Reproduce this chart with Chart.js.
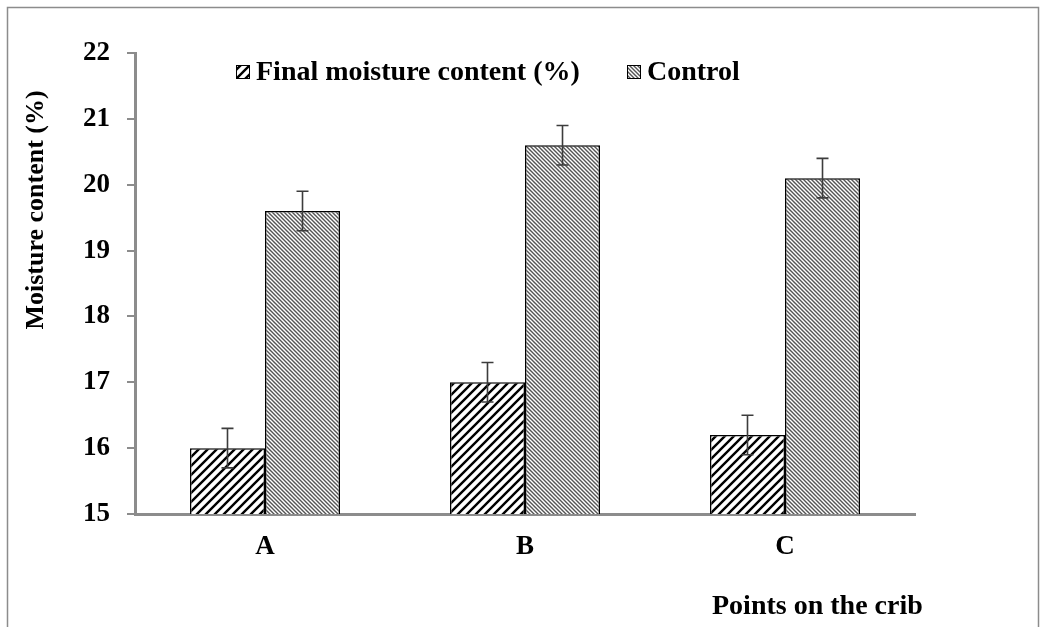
<!DOCTYPE html>
<html>
<head>
<meta charset="utf-8">
<script src="https://cdn.jsdelivr.net/npm/chart.js@4/dist/chart.umd.min.js"></script>
<style>
html,body{margin:0;padding:0;background:#fff;}
#wrap{width:1044px;height:627px;position:relative;}
</style>
</head>
<body>
<div id="wrap"><canvas id="c" width="1044" height="627"></canvas></div>
<script>
const categories = ['A', 'B', 'C'];
const finalMoisture = [16.0, 17.0, 16.2];
const controlMoisture = [19.6, 20.6, 20.1];
const finalError = [0.3, 0.3, 0.3];
const controlError = [0.3, 0.3, 0.3];
const seriesLabels = ['Final moisture content (%)', 'Control'];
const yTickValues = [15, 16, 17, 18, 19, 20, 21, 22];
const yTitle = 'Moisture content (%)';
const xTitle = 'Points on the crib';

const FONT = '"Liberation Serif", "Times New Roman", serif';

function makePattern(size, draw) {
  const c = document.createElement('canvas');
  c.width = size; c.height = size;
  const g = c.getContext('2d');
  g.fillStyle = '#fff';
  g.fillRect(0, 0, size, size);
  draw(g, size);
  return document.getElementById('c').getContext('2d').createPattern(c, 'repeat');
}
const finalPattern = makePattern(9, (g, s) => {
  g.strokeStyle = '#000';
  g.lineWidth = 2.4;
  g.beginPath();
  g.moveTo(-s, 2 * s); g.lineTo(2 * s, -s);
  g.moveTo(-s, s); g.lineTo(s, -s);
  g.moveTo(0, 2 * s); g.lineTo(2 * s, 0);
  g.stroke();
});
const controlPattern = makePattern(4, (g, s) => {
  g.strokeStyle = '#555';
  g.lineWidth = 1.4;
  g.beginPath();
  g.moveTo(-s, -s); g.lineTo(2 * s, 2 * s);
  g.moveTo(0, -s); g.lineTo(2 * s, s);
  g.moveTo(-s, 0); g.lineTo(s, 2 * s);
  g.stroke();
});

const errorBars = {
  id: 'errorBars',
  afterDatasetsDraw(chart) {
    const ctx = chart.ctx;
    const ys = chart.scales.y;
    const errs = [finalError, controlError];
    chart.data.datasets.forEach((ds, i) => {
      const meta = chart.getDatasetMeta(i);
      meta.data.forEach((el, j) => {
        const v = ds.data[j], e = errs[i][j];
        const top = ys.getPixelForValue(v + e);
        const bot = ys.getPixelForValue(v - e);
        ctx.save();
        ctx.strokeStyle = '#3c3c3c';
        ctx.lineWidth = 1.6;
        ctx.beginPath();
        ctx.moveTo(el.x, top); ctx.lineTo(el.x, bot);
        ctx.moveTo(el.x - 6, top); ctx.lineTo(el.x + 6, top);
        ctx.moveTo(el.x - 6, bot); ctx.lineTo(el.x + 6, bot);
        ctx.stroke();
        ctx.restore();
      });
    });
  }
};

const decorations = {
  id: 'decorations',
  beforeDraw(chart) {
    const ctx = chart.ctx;
    ctx.save();
    ctx.fillStyle = '#fff';
    ctx.fillRect(0, 0, chart.width, chart.height);
    ctx.strokeStyle = '#8c8c8c';
    ctx.lineWidth = 1.5;
    ctx.strokeRect(7.5, 7.5, chart.width - 13, chart.height + 20);
    ctx.restore();
  },
  afterDraw(chart) {
    const ctx = chart.ctx;
    ctx.save();
    ctx.fillStyle = '#000';
    // y title
    ctx.font = 'bold 26px ' + FONT;
    ctx.translate(36, 210);
    ctx.rotate(-Math.PI / 2);
    ctx.textAlign = 'center';
    ctx.textBaseline = 'middle';
    ctx.fillText(yTitle, 0, 0);
    ctx.restore();

    // x title
    ctx.save();
    ctx.font = 'bold 28px ' + FONT;
    ctx.fillStyle = '#000';
    ctx.textAlign = 'left';
    ctx.textBaseline = 'middle';
    ctx.fillText(xTitle, 712, 607);
    ctx.restore();

    // legend
    ctx.save();
    ctx.font = 'bold 28px ' + FONT;
    ctx.textBaseline = 'middle';
    ctx.textAlign = 'left';
    const pats = [finalPattern, controlPattern];
    const boxX = [236, 627];
    const ly = 72;
    seriesLabels.forEach((lab, i) => {
      const x = boxX[i];
      ctx.fillStyle = pats[i];
      ctx.fillRect(x, ly - 7, 14, 14);
      ctx.strokeStyle = '#000';
      ctx.lineWidth = 1;
      ctx.strokeRect(x + 0.5, ly - 6.5, 13, 13);
      ctx.fillStyle = '#000';
      ctx.fillText(lab, x + 20, ly + 1);
    });
    ctx.restore();
  }
};

new Chart(document.getElementById('c'), {
  type: 'bar',
  data: {
    labels: categories,
    datasets: [
      {
        label: seriesLabels[0],
        data: finalMoisture,
        backgroundColor: finalPattern,
        borderColor: '#000',
        borderWidth: 1.5,
        borderSkipped: false,
        barPercentage: 1,
        categoryPercentage: 0.577
      },
      {
        label: seriesLabels[1],
        data: controlMoisture,
        backgroundColor: controlPattern,
        borderColor: '#000',
        borderWidth: 1.5,
        borderSkipped: false,
        barPercentage: 1,
        categoryPercentage: 0.577
      }
    ]
  },
  options: {
    responsive: false,
    animation: false,
    devicePixelRatio: 1,
    layout: { padding: { top: 53, left: 0, right: 129, bottom: 53 } },
    plugins: { legend: { display: false }, tooltip: { enabled: false }, title: { display: false } },
    scales: {
      x: {
        afterFit(s) { s.height = 60; },
        grid: { display: true, drawOnChartArea: false, drawTicks: false, color: 'rgba(0,0,0,0)' },
        border: { display: true, color: '#8c8c8c', width: 3 },
        ticks: { color: '#000', font: { family: FONT, size: 27, weight: 'bold' }, padding: 17 }
      },
      y: {
        min: 15,
        max: 22,
        afterFit(s) { s.width = 135; },
        afterBuildTicks(s) { s.ticks = yTickValues.map(v => ({ value: v })); },
        grid: { display: true, drawOnChartArea: false, drawTicks: true, tickLength: 8, color: '#8c8c8c', lineWidth: 2 },
        border: { display: true, color: '#8c8c8c', width: 3 },
        ticks: { color: '#000', font: { family: FONT, size: 27, weight: 'bold' }, padding: 17 }
      }
    }
  },
  plugins: [decorations, errorBars]
});
</script>
</body>
</html>
